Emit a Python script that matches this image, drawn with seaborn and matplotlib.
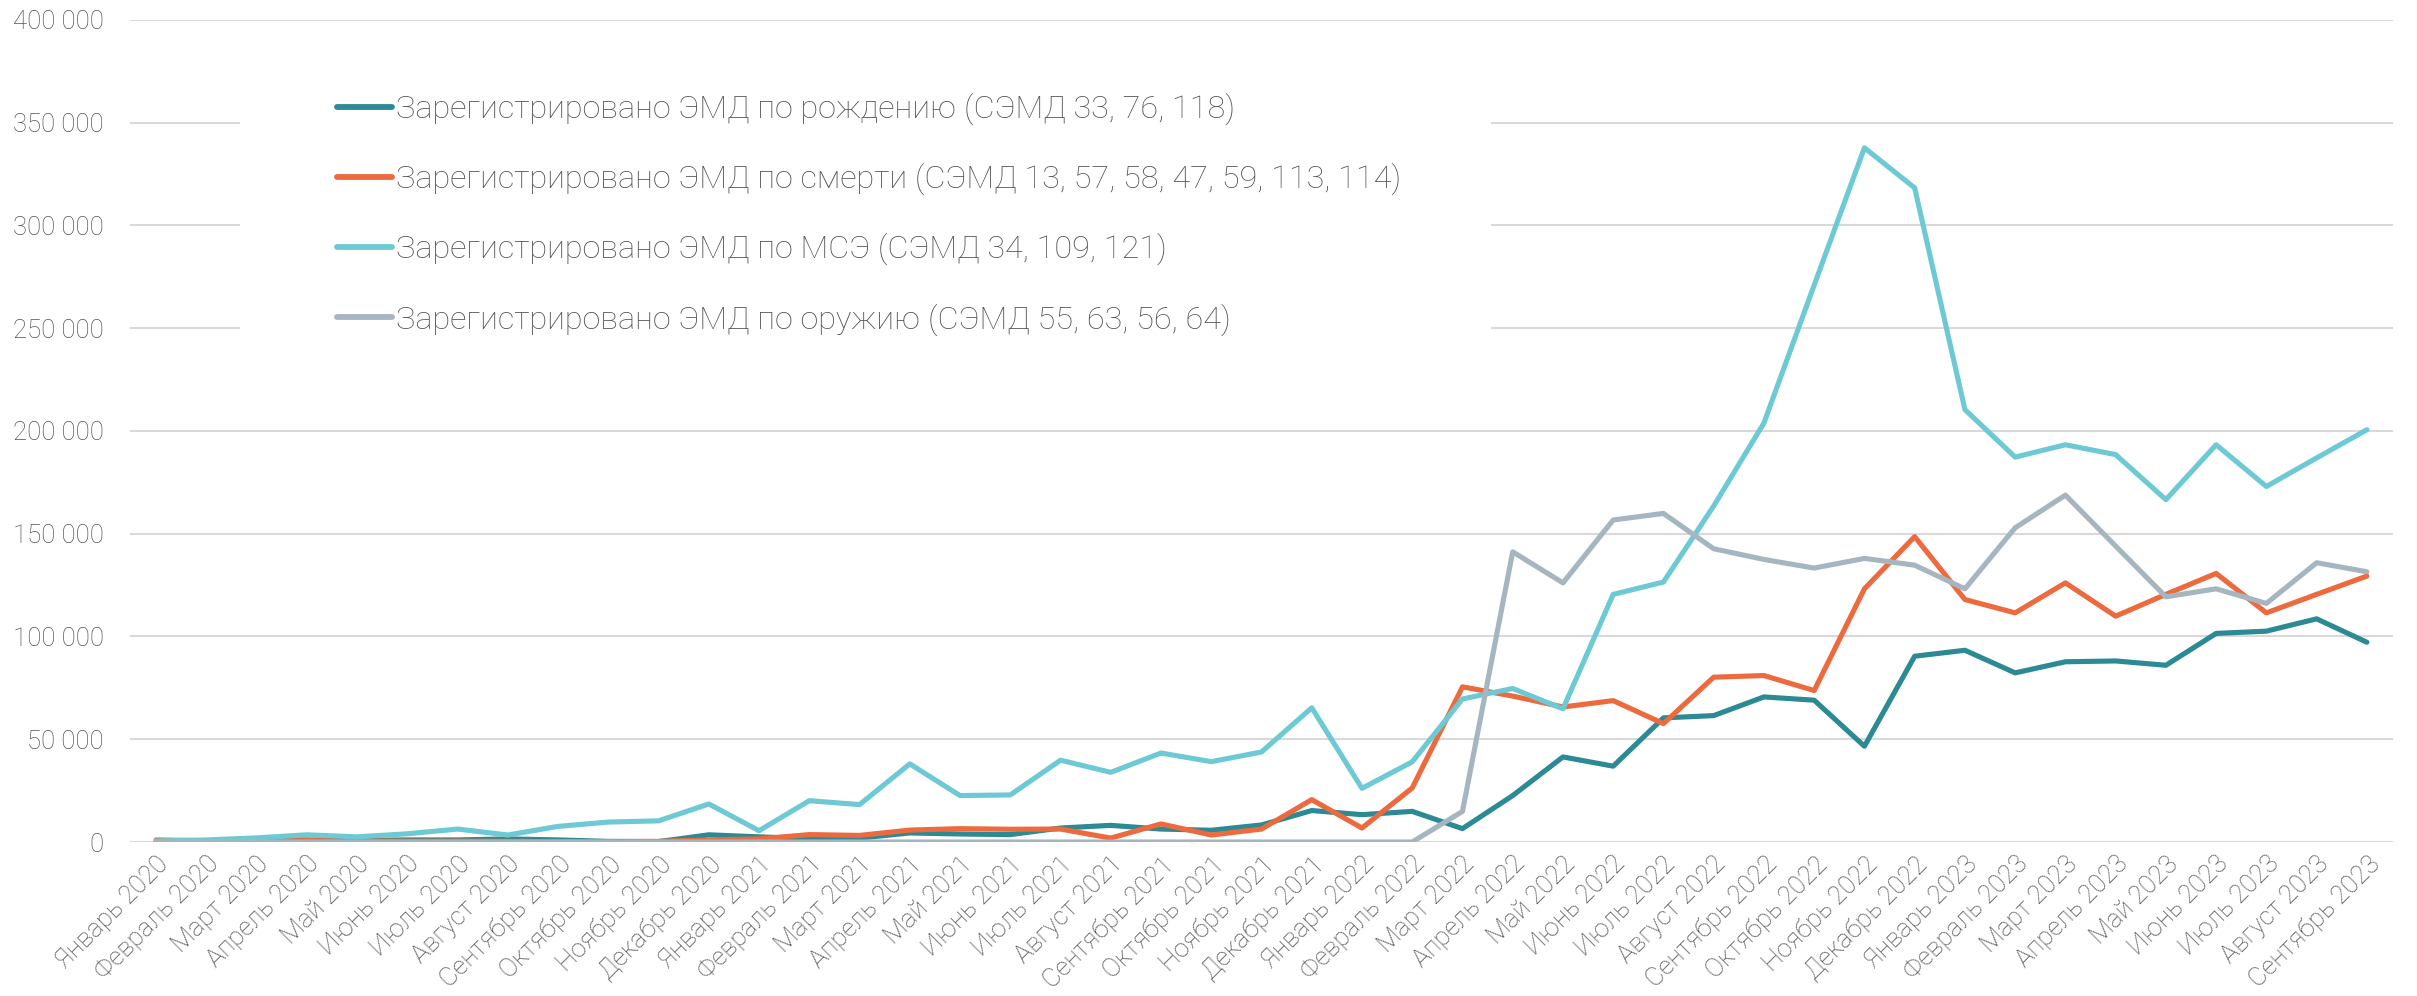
import numpy as np
import pandas as pd
import matplotlib
matplotlib.use("Agg")
import matplotlib.pyplot as plt
import matplotlib.ticker as mticker
from matplotlib.patches import Rectangle
import seaborn as sns

months = ["Январь", "Февраль", "Март", "Апрель", "Май", "Июнь", "Июль",
          "Август", "Сентябрь", "Октябрь", "Ноябрь", "Декабрь"]
labels = [f"{m} {y}" for y in (2020, 2021, 2022, 2023) for m in months][:45]

births = [300, 500, 1200, 1000, 800, 1000, 1000, 1500, 1000, 300, 200, 3500,
          2500, 1600, 1900, 4400, 3900, 3600, 6800, 8100, 6300, 5700, 8300, 15300,
          13300, 14900, 6500, 22600, 41400, 36900, 60400, 61500, 70600, 69000, 46600, 90400,
          93300, 82300, 87700, 88100, 86000, 101500, 102600, 108600, 97200]
deaths = [1000, 600, 500, 700, 500, 400, 400, 300, 200, 200, 300, 1000,
          1500, 3600, 3200, 5800, 6500, 6200, 6300, 1900, 8800, 3400, 6300, 20600,
          6800, 26300, 75500, 71000, 65700, 68800, 57600, 80200, 81000, 73700, 123200, 148600,
          118000, 111500, 126100, 109900, 120500, 130700, 111500, 120500, 129400]
mse = [500, 1000, 2000, 3500, 2500, 4000, 6300, 3400, 7600, 9700, 10300, 18500,
       5500, 20100, 18200, 38000, 22600, 22900, 39800, 33900, 43300, 39100, 43800, 65300,
       26100, 39000, 69600, 74700, 64800, 120500, 126500, 163500, 203900, 271000, 337800, 318300,
       210400, 187300, 193300, 188500, 166600, 193300, 173000, 186900, 200600]
weapons = [0] * 26 + [14900, 141200, 126100, 156700, 159900, 142700, 137500, 133300, 138000, 134700,
                      123200, 152900, 168800, 144000, 119300, 123200, 116100, 135900, 131500]

names = ["Зарегистрировано ЭМД по рождению (СЭМД 33, 76, 118)",
         "Зарегистрировано ЭМД по смерти (СЭМД 13, 57, 58, 47, 59, 113, 114)",
         "Зарегистрировано ЭМД по МСЭ (СЭМД 34, 109, 121)",
         "Зарегистрировано ЭМД по оружию (СЭМД 55, 63, 56, 64)"]
colors = ["#2B8A93", "#ED6A3E", "#6DCAD4", "#A5B6C0"]
series = [births, deaths, mse, weapons]

sns.set_theme(style="white")
plt.rcParams["font.family"] = ["Roboto", "DejaVu Sans"]

fig = plt.figure(figsize=(24.17, 9.96), dpi=100)
ax = fig.add_axes([130 / 2417, 1 - 842 / 996, 2263 / 2417, 822 / 996])

idx = np.arange(len(labels))
for name, vals, col in zip(names, series, colors):
    df = pd.DataFrame({"x": idx, "y": vals})
    sns.lineplot(data=df, x="x", y="y", ax=ax, color=col, lw=3.7,
                 label=name, solid_capstyle="round", solid_joinstyle="round")

ax.set_ylim(0, 400000)
ax.set_xlim(-0.52, len(labels) - 0.48)
ax.set_yticks(np.arange(0, 400001, 50000))
ax.yaxis.set_major_formatter(mticker.FuncFormatter(lambda v, p: f"{int(v):,}".replace(",", " ")))
ax.set_xticks(idx)
ax.set_xticklabels(labels, rotation=45, ha="right", rotation_mode="anchor")
ax.tick_params(axis="y", length=0, pad=19, labelsize=18.5, labelcolor="#525252")
ax.tick_params(axis="x", length=0, pad=7, labelsize=18.5, labelcolor="#525252")
for t in ax.get_xticklabels() + ax.get_yticklabels():
    t.set_fontweight("light")
ax.set_xlabel("")
ax.set_ylabel("")
ax.grid(axis="y", color="#D9D9D9", lw=1.5)
ax.set_axisbelow(True)
for s in ax.spines.values():
    s.set_visible(False)

ax.add_patch(Rectangle((0.0486, 0.562), 0.553, 0.389, transform=ax.transAxes,
                       facecolor="white", edgecolor="none", zorder=1))
leg = ax.legend(loc="upper left", bbox_to_anchor=(0.0844, 0.931), frameon=False,
                borderpad=0, handlelength=1.7, handletextpad=0.12, labelspacing=1.17,
                prop={"size": 23.3, "weight": "light"}, labelcolor="#525252")
for h in leg.legend_handles:
    h.set_linewidth(4.2)

fig.savefig("out.png", dpi=100)
